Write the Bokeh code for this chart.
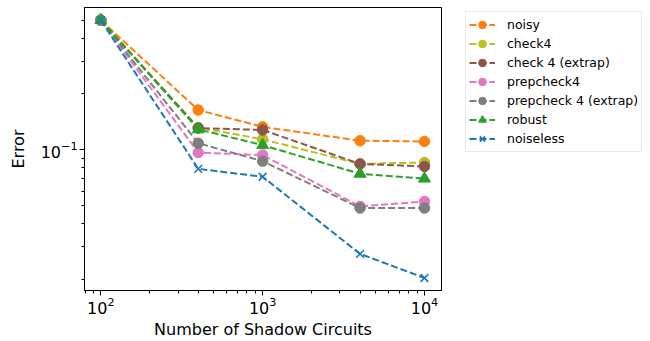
from bokeh.plotting import figure
from bokeh.layouts import row
from bokeh.models import FixedTicker, Legend, LegendItem, Range1d, LogTickFormatter
from bokeh.embed import file_html
from bokeh.resources import INLINE

# Data
shadows = [100, 400, 1000, 4000, 10000]
noisy = [0.5, 0.164, 0.133, 0.112, 0.111]
check4 = [0.5, 0.132, 0.114, 0.084, 0.0855]
check4_extrap = [0.5, 0.131, 0.128, 0.084, 0.0814]
prepcheck4 = [0.5, 0.0967, 0.0937, 0.0496, 0.0527]
prepcheck4_extrap = [0.5, 0.1086, 0.0869, 0.0486, 0.0486]
robust = [0.5, 0.129, 0.106, 0.0743, 0.070]
noiseless = [0.5, 0.079, 0.0716, 0.0275, 0.0204]

series_names = ["noisy", "check4", "check 4 (extrap)", "prepcheck4",
                "prepcheck 4 (extrap)", "robust", "noiseless"]
series_values = [noisy, check4, check4_extrap, prepcheck4,
                 prepcheck4_extrap, robust, noiseless]
colors = ["#ff7f0e", "#bcbd22", "#8c564b", "#e377c2", "#7f7f7f", "#2ca02c", "#1f77b4"]
markers = ["circle", "circle", "circle", "circle", "circle", "triangle", "x"]

x_major = [100, 1000, 10000]
x_minor = [80, 90, 200, 300, 400, 500, 600, 700, 800, 900,
           2000, 3000, 4000, 5000, 6000, 7000, 8000, 9000]
y_major = [0.1]
y_minor = [0.02, 0.03, 0.04, 0.05, 0.06, 0.07, 0.08, 0.09, 0.2, 0.3, 0.4, 0.5]

FONT = "DejaVu Sans"

p = figure(width=465, height=341, x_axis_type="log", y_axis_type="log",
           output_backend="svg", toolbar_location=None,
           x_range=Range1d(79.3, 12740), y_range=Range1d(0.01746, 0.585),
           min_border_left=84, min_border_right=24, min_border_top=7,
           min_border_bottom=50)

p.xgrid.visible = False
p.ygrid.visible = False
p.outline_line_color = "black"
p.outline_line_width = 1
p.outline_line_alpha = 1

for ax in (p.xaxis[0], p.yaxis[0]):
    ax.axis_line_color = "black"
    ax.major_tick_line_color = "black"
    ax.minor_tick_line_color = "black"
    ax.major_tick_in = 0
    ax.major_tick_out = 5
    ax.minor_tick_in = 0
    ax.minor_tick_out = 3
    ax.major_label_text_font = FONT
    ax.major_label_text_font_size = "16px"
    ax.major_label_text_color = "black"
    ax.axis_label_text_font = FONT
    ax.axis_label_text_font_size = "16px"
    ax.axis_label_text_font_style = "normal"
    ax.axis_label_text_color = "black"
    ax.formatter = LogTickFormatter()

p.xaxis.major_label_standoff = 1
p.xaxis.axis_label_standoff = 3
p.yaxis.major_label_standoff = 2
p.yaxis.axis_label_standoff = 10
p.xaxis.ticker = FixedTicker(ticks=x_major, minor_ticks=x_minor)
p.yaxis.ticker = FixedTicker(ticks=y_major, minor_ticks=y_minor)
p.xaxis.axis_label = "Number of Shadow Circuits"
p.yaxis.axis_label = "Error"

# Legend lives in a second, axis-less figure to the right
p2 = figure(width=185, height=341, output_backend="svg", toolbar_location=None,
            x_range=Range1d(0, 1), y_range=Range1d(0, 1),
            x_axis_location=None, y_axis_location=None,
            min_border_left=0, min_border_right=0, min_border_top=0,
            min_border_bottom=0)
p2.grid.visible = False
p2.outline_line_color = None

items = []
for name, vals, col, mk in zip(series_names, series_values, colors, markers):
    glyph_sets = []
    # second figure gets off-screen copies used only for the legend swatches
    for fig, xs, ys in ((p, shadows, vals), (p2, [5, 6], [5, 6])):
        ln = fig.line(xs, ys, line_color=col, line_width=2, line_dash="7 3")
        if mk == "x":
            sc = fig.scatter(xs, ys, marker="x", size=11, line_color=col, line_width=1.6)
        elif mk == "triangle":
            sc = fig.scatter(xs, ys, marker="triangle", size=12, fill_color=col, line_color=col)
        else:
            sc = fig.scatter(xs, ys, marker="circle", size=10.5, fill_color=col, line_color=col)
        glyph_sets.append([ln, sc])
    items.append(LegendItem(label=name, renderers=glyph_sets[1]))

legend = Legend(items=items, location=(0, 138),
                label_text_font=FONT, label_text_font_size="12.5px",
                label_text_color="black",
                label_height=19, glyph_height=19, glyph_width=26,
                label_standoff=12, spacing=0, padding=3, margin=0,
                border_line_color="#d5d5d5", border_line_width=1,
                background_fill_color="white", background_fill_alpha=1)
p2.add_layout(legend, "center")

layout = row(p, p2, spacing=0)
open("out.html", "w").write(file_html(layout, INLINE))
